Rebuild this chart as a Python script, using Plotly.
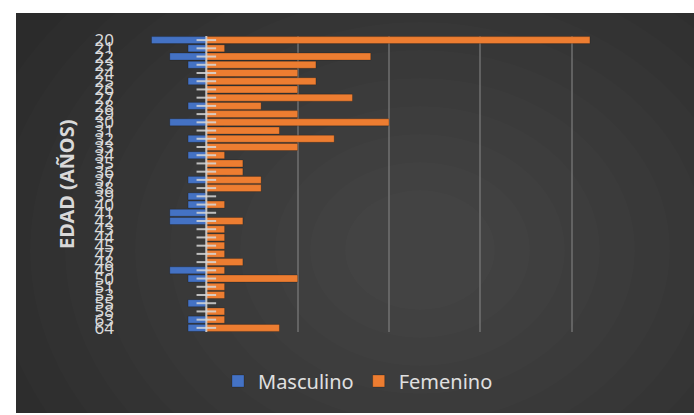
import plotly.graph_objects as go

# ---- data ----
ages = [20, 21, 22, 23, 24, 25, 26, 27, 28, 29, 30, 31, 32, 33, 34, 35, 36, 37,
        38, 39, 40, 41, 42, 43, 44, 45, 47, 48, 49, 50, 51, 53, 55, 58, 63, 64]
masculino = [3, 1, 2, 1, 0, 1, 0, 0, 1, 0, 2, 0, 1, 0, 1, 0, 0, 1,
             0, 1, 1, 2, 2, 0, 0, 0, 0, 0, 2, 1, 0, 0, 1, 0, 1, 1]
femenino = [21, 1, 9, 6, 5, 6, 5, 8, 3, 5, 10, 4, 7, 5, 1, 2, 2, 3,
            3, 0, 1, 0, 2, 1, 1, 1, 1, 2, 1, 5, 1, 1, 0, 1, 1, 4]
series_names = ["Masculino", "Femenino"]
y_title = "EDAD (AÑOS)"

cats = [str(a) for a in ages]

# ---- geometry (pixels) ----
W, H = 694, 415
L, R, T, B = 115, 31, 36, 83
PW, PH = W - L - R, H - T - B


def px(x):
    return (x - L) / PW


def py(y):
    return (H - B - y) / PH


fig = go.Figure()

fig.add_trace(go.Bar(
    y=cats, x=[-v for v in masculino], orientation="h", name=series_names[0],
    marker=dict(color="#4472C4", line=dict(color="rgba(0,0,0,0.35)", width=0.6)),
))
fig.add_trace(go.Bar(
    y=cats, x=femenino, orientation="h", name=series_names[1],
    marker=dict(color="#ED7D31", line=dict(color="rgba(0,0,0,0.35)", width=0.6)),
))
# tick marks crossing the category axis at zero
fig.add_trace(go.Scatter(
    y=cats, x=[0] * len(cats), mode="markers", showlegend=False, hoverinfo="skip",
    marker=dict(symbol="line-ew", size=14, line=dict(color="rgba(215,215,215,0.85)", width=2)),
))

shapes = []
# dark background panel
shapes.append(dict(type="rect", xref="paper", yref="paper", layer="below",
                   x0=px(16), x1=px(W + 2), y0=py(413), y1=py(13),
                   fillcolor="#2b2b2b", line=dict(width=0)))
# radial gradient approximation
cx, cy = 420, 250
for r in range(460, 40, -35):
    shapes.append(dict(type="circle", xref="paper", yref="paper", layer="below",
                       x0=px(cx - r), x1=px(cx + r), y0=py(cy + r * 0.8), y1=py(cy - r * 0.8),
                       fillcolor="rgba(255,255,255,0.013)", line=dict(width=0)))
# white borders to cut gradient overflow
shapes.append(dict(type="rect", xref="paper", yref="paper", layer="below",
                   x0=px(-5), x1=px(16), y0=py(H + 5), y1=py(-5),
                   fillcolor="white", line=dict(width=0)))
shapes.append(dict(type="rect", xref="paper", yref="paper", layer="below",
                   x0=px(-5), x1=px(W + 5), y0=py(13), y1=py(-5),
                   fillcolor="white", line=dict(width=0)))
shapes.append(dict(type="rect", xref="paper", yref="paper", layer="below",
                   x0=px(-5), x1=px(W + 5), y0=py(H + 5), y1=py(413),
                   fillcolor="white", line=dict(width=0)))
# zero axis line above the bars
shapes.append(dict(type="line", xref="x", yref="paper", layer="above",
                   x0=0, x1=0, y0=0, y1=1,
                   line=dict(color="rgba(215,215,215,0.85)", width=2)))

fig.update_layout(
    width=W, height=H,
    margin=dict(l=L, r=R, t=T, b=B, pad=0, autoexpand=False),
    paper_bgcolor="white",
    plot_bgcolor="rgba(0,0,0,0)",
    barmode="relative",
    bargap=0.15,
    shapes=shapes,
    font=dict(family="Noto Sans, Open Sans, sans-serif", color="#d9d9d9"),
    xaxis=dict(range=[-5, 25], dtick=5, tick0=0, showgrid=True,
               gridcolor="rgba(125,125,125,0.6)", gridwidth=1.5, automargin=False,
               zeroline=False, showticklabels=False, showline=False, fixedrange=True),
    yaxis=dict(autorange=False, range=[len(cats) - 0.5, -0.5], type="category",
               tickmode="array",
               tickvals=cats, ticktext=cats, showgrid=False, zeroline=False,
               automargin=False,
               tickfont=dict(size=17, color="#d9d9d9", family="Noto Sans"),
               ticks="", showline=False),
    legend=dict(orientation="h", x=px(358), xanchor="center", y=py(381), yanchor="middle",
                font=dict(size=20, color="#e0e0e0", family="Noto Sans"),
                bgcolor="rgba(0,0,0,0)", traceorder="normal", itemwidth=30),
    annotations=[dict(text="<b>" + y_title + "</b>", xref="paper", yref="paper",
                      x=px(66), y=py(185),
                      showarrow=False, textangle=-90,
                      font=dict(size=20, color="#d9d9d9", family="Noto Sans"),
                      xanchor="center", yanchor="middle")],
)

fig.write_html("out.html")
